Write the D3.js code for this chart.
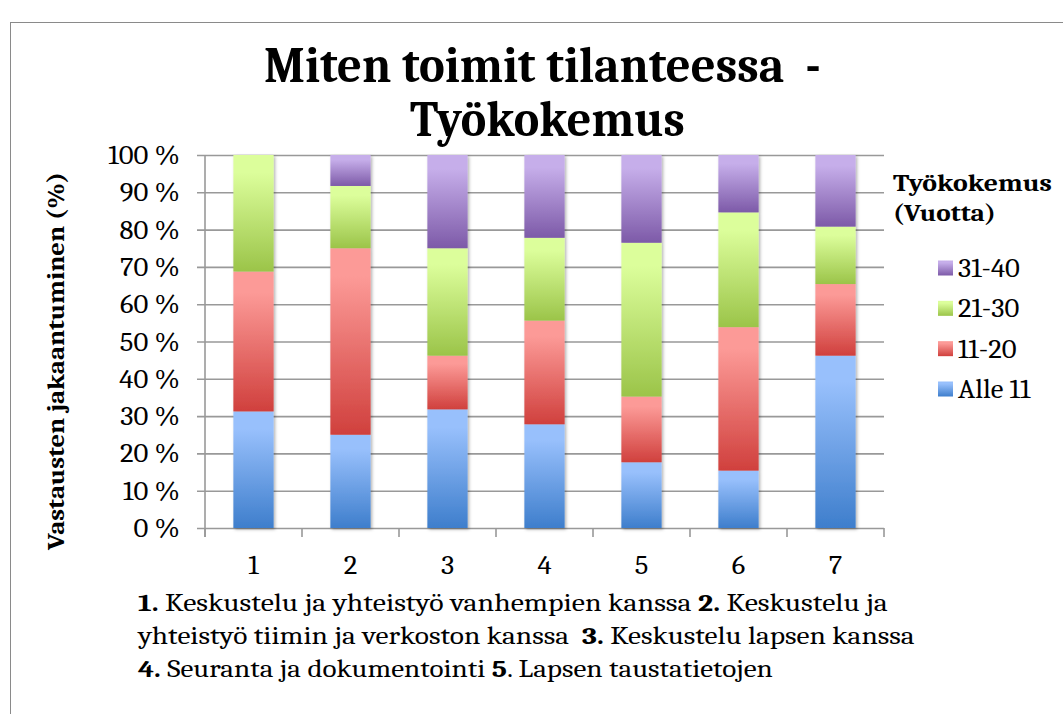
<!DOCTYPE html>
<html>
<head>
<meta charset="utf-8">
<script src="https://cdn.jsdelivr.net/npm/d3@7/dist/d3.min.js"></script>
<style>
  html, body { margin: 0; padding: 0; background: #fff; }
  svg { display: block; }
</style>
</head>
<body>
<svg id="chart" width="1063" height="714"></svg>
<script>
// ---- Data ----
const categories = ["1", "2", "3", "4", "5", "6", "7"];
const seriesNames = ["Alle 11", "11-20", "21-30", "31-40"];
const alle11 = [31.25, 25.0, 31.8, 27.8, 17.6, 15.4, 46.2];
const v11_20 = [37.5, 50.0, 14.4, 27.8, 17.6, 38.5, 19.2];
const v21_30 = [31.25, 16.7, 28.8, 22.2, 41.2, 30.8, 15.4];
const v31_40 = [0.0, 8.3, 25.0, 22.2, 23.5, 15.4, 19.2];
const yTicks = [0, 10, 20, 30, 40, 50, 60, 70, 80, 90, 100];
const yTickLabels = yTicks.map(t => t + " %");
const titleLines = ["Miten toimit tilanteessa  -", "Työkokemus"];
const legendTitle = ["Työkokemus", "(Vuotta)"];
const yAxisTitle = "Vastausten jakaantuminen (%)";
const captionLines = [
  [["1.", true], [" Keskustelu ja yhteistyö vanhempien kanssa ", false], ["2.", true], [" Keskustelu ja", false]],
  [["yhteistyö tiimin ja verkoston kanssa  ", false], ["3.", true], [" Keskustelu lapsen kanssa", false]],
  [["4.", true], [" Seuranta ja dokumentointi ", false], ["5", true], [". Lapsen taustatietojen", false]]
];

const colors = {
  "Alle 11": ["#98c0fc", "#3e7ecc"],
  "11-20":   ["#fc9a97", "#d0403d"],
  "21-30":   ["#dcfe9b", "#9bc449"],
  "31-40":   ["#c6aeea", "#7d5aa8"]
};

const table = categories.map((c, i) => ({
  cat: c, "Alle 11": alle11[i], "11-20": v11_20[i], "21-30": v21_30[i], "31-40": v31_40[i]
}));

// ---- Layout ----
const FONT = "Caladea, Cambria, 'Liberation Serif', serif";
const svg = d3.select("#chart");
const plot = { left: 205, right: 884, top: 155, bottom: 528 };
const SX = 1.06;

function txt(parent, size, bold) {
  return parent.append("text")
    .style("font-family", FONT)
    .style("font-size", size + "px")
    .style("font-weight", bold ? "bold" : "normal")
    .style("white-space", "pre")
    .attr("fill", "#000");
}

svg.append("rect").attr("x", 10.5).attr("y", 22.5).attr("width", 1200).attr("height", 900)
  .attr("fill", "#fff").attr("stroke", "#8a8a8a").attr("stroke-width", 1);

const defs = svg.append("defs");
seriesNames.forEach((s, i) => {
  const g = defs.append("linearGradient").attr("id", "grad" + i)
    .attr("x1", 0).attr("y1", 0).attr("x2", 0).attr("y2", 1);
  g.append("stop").attr("offset", "0%").attr("stop-color", colors[s][0]);
  g.append("stop").attr("offset", "15%").attr("stop-color", colors[s][0]);
  g.append("stop").attr("offset", "100%").attr("stop-color", colors[s][1]);
});
const f = defs.append("filter").attr("id", "shadow").attr("x", "-20%").attr("y", "-5%").attr("width", "150%").attr("height", "115%");
f.append("feDropShadow").attr("dx", 1.5).attr("dy", 1.5).attr("stdDeviation", 1.8)
  .attr("flood-color", "#000").attr("flood-opacity", 0.3);

const x = d3.scaleBand().domain(categories).range([plot.left, plot.right]).paddingInner(0).paddingOuter(0);
const y = d3.scaleLinear().domain([0, 100]).range([plot.bottom, plot.top]);

// gridlines
const yAxis = d3.axisLeft(y).tickValues(yTicks)
  .tickSize(-(plot.right - plot.left)).tickFormat("");
const gy = svg.append("g").attr("transform", `translate(${plot.left},0)`).call(yAxis);
gy.select(".domain").remove();
gy.selectAll(".tick line").attr("stroke", "#999").attr("stroke-width", 1.6)
  .attr("x1", -8);

// y axis line
svg.append("line").attr("x1", plot.left).attr("x2", plot.left)
  .attr("y1", plot.top).attr("y2", plot.bottom + 9)
  .attr("stroke", "#999").attr("stroke-width", 1.6);

// x axis ticks at boundaries
const bounds = categories.map(c => x(c)).concat([plot.right]);
svg.append("g").selectAll("line").data(bounds).join("line")
  .attr("x1", d => d).attr("x2", d => d)
  .attr("y1", plot.bottom).attr("y2", plot.bottom + 9)
  .attr("stroke", "#999").attr("stroke-width", 1.6);

// y tick labels
const yl = svg.append("g");
yTicks.forEach((d, i) => {
  txt(yl, 27, false).attr("text-anchor", "end")
    .attr("transform", `translate(180,${y(d) + 9}) scale(${SX},1)`)
    .text(yTickLabels[i]);
});

// x tick labels
const xl = svg.append("g");
categories.forEach(c => {
  txt(xl, 27, false).attr("text-anchor", "middle")
    .attr("transform", `translate(${x(c) + x.bandwidth() / 2},574) scale(${SX},1)`)
    .text(c);
});

// stacked bars
const stack = d3.stack().keys(seriesNames).offset(d3.stackOffsetExpand);
const stacked = stack(table);
const barW = x.bandwidth() * 0.415;
const barsG = svg.append("g");
const perCat = barsG.selectAll("g.cat").data(categories).join("g").attr("class", "cat")
  .attr("filter", "url(#shadow)");
perCat.each(function(c, ci) {
  const g = d3.select(this);
  stacked.forEach((layer, si) => {
    const d = layer[ci];
    const h = y(d[0] * 100) - y(d[1] * 100);
    if (h <= 0.01) return;
    g.append("rect")
      .attr("x", x(c) + (x.bandwidth() - barW) / 2)
      .attr("y", y(d[1] * 100))
      .attr("width", barW)
      .attr("height", h)
      .attr("fill", `url(#grad${si})`);
  });
});

// helper to fit width by horizontal scaling
function fit(sel, x0, y0, target) {
  const len = sel.node().getComputedTextLength();
  sel.attr("transform", `translate(${x0},${y0}) scale(${target / len},1)`);
}

// title
const t1 = txt(svg, 50, true).text(titleLines[0]);
fit(t1, 264, 82, 557);
const t2 = txt(svg, 50, true).text(titleLines[1]);
fit(t2, 410, 136, 275);

// y axis title
const yt = txt(svg, 25, true).attr("text-anchor", "middle").text(yAxisTitle);
{
  const len = yt.node().getComputedTextLength();
  yt.attr("transform", `translate(64,361) rotate(-90) scale(${378 / len},1)`);
}

// legend
const lt1 = txt(svg, 24, true).text(legendTitle[0]);
fit(lt1, 893, 191, 159);
const lt2 = txt(svg, 24, true).text(legendTitle[1]);
fit(lt2, 893, 221, 103);

const legendOrder = seriesNames.slice().reverse();
const legendY = d3.scalePoint().domain(legendOrder).range([268, 389]);
const lg = svg.append("g");
legendOrder.forEach(s => {
  const si = seriesNames.indexOf(s);
  lg.append("rect").attr("x", 938).attr("y", legendY(s) - 7.5)
    .attr("width", 15).attr("height", 15).attr("fill", `url(#grad${si})`);
  txt(lg, 27, false)
    .attr("transform", `translate(958,${legendY(s) + 9}) scale(${SX},1)`).text(s);
});

// caption
const capTargets = [750, 777, 635];
const capBase = [611, 644, 677];
captionLines.forEach((parts, li) => {
  const t = txt(svg, 25, false);
  parts.forEach(([s, b]) => {
    t.append("tspan").style("font-weight", b ? "bold" : "normal").text(s);
  });
  fit(t, 138, capBase[li], capTargets[li]);
});
</script>
</body>
</html>
